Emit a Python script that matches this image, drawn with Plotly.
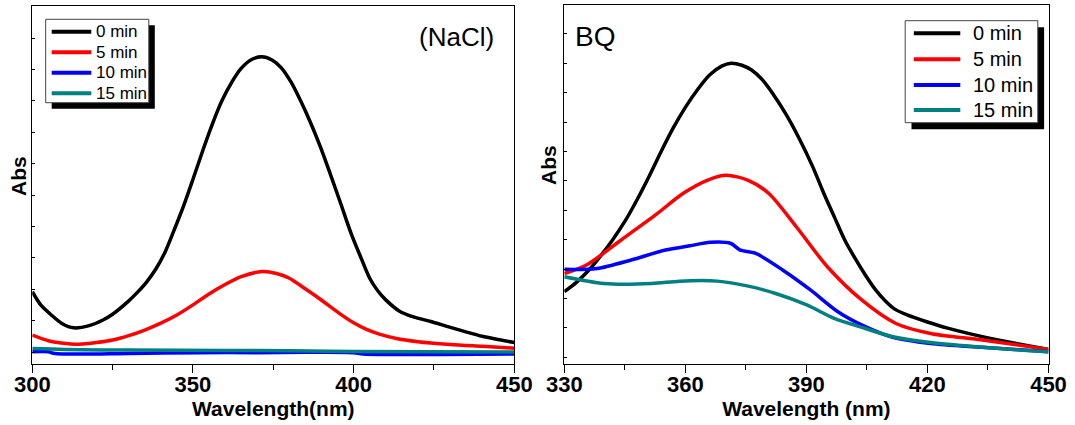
import plotly.graph_objects as go

W, H = 1075, 425

# ---------------- data: left panel (NaCl) ----------------
nacl_x_0 = [300, 302.7, 305.9, 309.2, 312.9, 317.7, 322, 325.2, 329.5, 332.7, 335.5, 338.5, 341.3, 344,
            347, 350, 353, 356, 359, 362, 365, 368, 371.4, 374.6, 377.5, 380.5, 383.5, 386.4, 389.6,
            392.8, 396, 399.2, 402.5, 405, 407.5, 410, 414.3, 418.6, 424, 429.3, 434.7, 440, 445.4, 450]
nacl_y_0 = [0.192, 0.149, 0.118, 0.091, 0.077, 0.084, 0.102, 0.122, 0.158, 0.190, 0.222, 0.265, 0.318, 0.385,
            0.463, 0.550, 0.640, 0.725, 0.800, 0.858, 0.903, 0.930, 0.940, 0.930, 0.905, 0.860, 0.800, 0.735, 0.655,
            0.565, 0.472, 0.378, 0.295, 0.235, 0.195, 0.166, 0.130, 0.112, 0.097, 0.081, 0.065, 0.050, 0.039, 0.030]

nacl_x_5 = [300, 305, 309, 314.5, 320, 325, 330, 335, 340, 345, 350, 355, 360, 365, 371.4, 376, 380,
            384, 388, 392, 396, 400, 404, 408, 413, 420, 430, 440, 450]
nacl_y_5 = [0.054, 0.036, 0.029, 0.025, 0.030, 0.038, 0.052, 0.070, 0.092, 0.118, 0.150, 0.185, 0.215,
            0.240, 0.256, 0.250, 0.235, 0.208, 0.180, 0.150, 0.120, 0.093, 0.072, 0.057, 0.044, 0.033,
            0.024, 0.018, 0.012]

nacl_x_10 = [300, 305, 307, 330, 352, 370, 385, 400, 403, 450]
nacl_y_10 = [0.001, 0.001, -0.005, -0.005, -0.002, -0.002, -0.001, -0.002, -0.006, -0.006]

nacl_x_15 = [300, 310, 330, 360, 380, 400, 450]
nacl_y_15 = [0.011, 0.008, 0.006, 0.005, 0.004, 0.002, 0.000]

# ---------------- data: right panel (BQ) ----------------
bq_x_0 = [330, 333, 336, 339, 342, 345, 348, 351, 354, 357, 360, 363, 366, 369, 371.3, 374, 376.4,
          379, 381.6, 385, 388.4, 391.5, 394.3, 397, 399.5, 402, 404.6, 407, 409.7, 412, 414.8, 420,
          425, 435.3, 450]
bq_y_0 = [0.223, 0.255, 0.295, 0.345, 0.400, 0.462, 0.535, 0.615, 0.700, 0.780, 0.850, 0.910, 0.960,
          0.990, 1.000, 0.993, 0.977, 0.945, 0.898, 0.825, 0.739, 0.650, 0.558, 0.475, 0.399, 0.338,
          0.280, 0.232, 0.190, 0.163, 0.145, 0.120, 0.099, 0.065, 0.027]

bq_x_5 = [330, 335.5, 344.1, 352.6, 359.4, 365.4, 370.1, 375.6, 380.7, 387.5, 395.2, 403.7, 412.2,
          420.8, 433.6, 450]
bq_y_5 = [0.285, 0.314, 0.399, 0.484, 0.557, 0.602, 0.619, 0.602, 0.557, 0.444, 0.308, 0.195, 0.115,
          0.081, 0.059, 0.027]

bq_x_10 = [330, 338.1, 346.6, 355.1, 361.1, 366.2, 371.3, 373.5, 377.3, 384.1, 391, 397.8, 404.6,
           411.4, 420.8, 433.6, 450]
bq_y_10 = [0.299, 0.302, 0.331, 0.365, 0.379, 0.391, 0.387, 0.365, 0.354, 0.297, 0.229, 0.155, 0.104,
           0.068, 0.047, 0.034, 0.019]

bq_x_15 = [330, 339.8, 351.7, 358.6, 367.9, 375.6, 382.4, 390.1, 396.9, 404.6, 411.4, 420.8, 433.6, 450]
bq_y_15 = [0.274, 0.251, 0.251, 0.259, 0.259, 0.242, 0.217, 0.178, 0.132, 0.098, 0.070, 0.050, 0.034, 0.019]

series_names = ["0 min", "5 min", "10 min", "15 min"]
series_colors = ["#000000", "#ff0000", "#0000ff", "#008080"]
panel_labels = ["(NaCl)", "BQ"]
x_titles = ["Wavelength(nm)", "Wavelength (nm)"]
y_title = "Abs"

left_x = [nacl_x_0, nacl_x_5, nacl_x_10, nacl_x_15]
left_y = [nacl_y_0, nacl_y_5, nacl_y_10, nacl_y_15]
right_x = [bq_x_0, bq_x_5, bq_x_10, bq_x_15]
right_y = [bq_y_0, bq_y_5, bq_y_10, bq_y_15]

FONT = "Arial, Liberation Sans, sans-serif"

fig = go.Figure()
for name, col, xs, ys in zip(series_names, series_colors, left_x, left_y):
    fig.add_trace(go.Scatter(x=xs, y=ys, mode="lines", name=name, showlegend=False,
                             line=dict(color=col, width=3.5, shape="spline", smoothing=0.8),
                             xaxis="x", yaxis="y"))
for name, col, xs, ys in zip(series_names, series_colors, right_x, right_y):
    fig.add_trace(go.Scatter(x=xs, y=ys, mode="lines", name=name, showlegend=False,
                             line=dict(color=col, width=3.5, shape="spline", smoothing=0.8),
                             xaxis="x2", yaxis="y2"))


def px(v):
    return v / W


def py(v):
    return 1 - v / H


xcommon = dict(showgrid=False, zeroline=False, showline=True, linecolor="black", linewidth=1.3,
               mirror=True, ticks="outside", ticklen=8, tickwidth=1.3, tickcolor="black",
               automargin=False, ticklabelstandoff=-8,
               tickfont=dict(family=FONT, size=22, color="black", weight="bold"),
               title_font=dict(family=FONT, size=21, color="black", weight="bold"))
ycommon = dict(showgrid=False, zeroline=False, showline=True, linecolor="black", linewidth=1.3,
               mirror=True, ticks="inside", ticklen=3, tickwidth=1, tickcolor="black",
               automargin=False, showticklabels=False, dtick=0.1, tick0=0)

shapes = []
annotations = []

# custom legends (box with drop shadow, line samples, labels)
legend_specs = [
    dict(box=(45.7, 19.3, 148.8, 102.7), sh=(6, 6), lx=(51.7, 91.3), tx=94.0,
         rows=[31.7, 52.3, 72.7, 93.3], fs=17),
    dict(box=(905.2, 20.7, 1037.8, 122.7), sh=(6.3, 6.6), lx=(913.8, 960.3), tx=970.5,
         rows=[33.3, 59.3, 85.0, 110.0], fs=20),
]
for spec in legend_specs:
    bx0, by0, bx1, by1 = spec["box"]
    dx, dy = spec["sh"]
    shapes.append(dict(type="rect", xref="paper", yref="paper",
                       x0=px(bx0 + dx), x1=px(bx1 + dx), y0=py(by1 + dy), y1=py(by0 + dy),
                       fillcolor="black", line=dict(width=0), layer="above"))
    shapes.append(dict(type="rect", xref="paper", yref="paper",
                       x0=px(bx0), x1=px(bx1), y0=py(by1), y1=py(by0),
                       fillcolor="white", line=dict(width=1, color="#444444"), layer="above"))
    for name, col, ry in zip(series_names, series_colors, spec["rows"]):
        shapes.append(dict(type="line", xref="paper", yref="paper",
                           x0=px(spec["lx"][0]), x1=px(spec["lx"][1]), y0=py(ry), y1=py(ry),
                           line=dict(color=col, width=4), layer="above"))
        annotations.append(dict(text=name, xref="paper", yref="paper", x=px(spec["tx"]), y=py(ry),
                                xanchor="left", yanchor="middle", showarrow=False,
                                font=dict(family=FONT, size=spec["fs"], color="black")))

annotations += [
    dict(text=panel_labels[0], xref="paper", yref="paper", x=px(456), y=py(37), xanchor="center",
         yanchor="middle", showarrow=False, font=dict(family=FONT, size=26, color="black")),
    dict(text=panel_labels[1], xref="paper", yref="paper", x=px(573), y=py(37), xanchor="left",
         yanchor="middle", showarrow=False, font=dict(family=FONT, size=28, color="black")),
    dict(text=y_title, xref="paper", yref="paper", x=px(19), y=py(176), xanchor="center",
         yanchor="middle", textangle=-90, showarrow=False,
         font=dict(family=FONT, size=21, color="black", weight="bold")),
    dict(text=y_title, xref="paper", yref="paper", x=px(549), y=py(165), xanchor="center",
         yanchor="middle", textangle=-90, showarrow=False,
         font=dict(family=FONT, size=21, color="black", weight="bold")),
]

fig.update_layout(
    width=W, height=H, margin=dict(l=0, r=0, t=0, b=0, autoexpand=False),
    plot_bgcolor="white", paper_bgcolor="white",
    xaxis=dict(domain=[px(32.3), px(514.3)], range=[300, 450], dtick=50, anchor="y",
               minor=dict(ticks="outside", ticklen=5, dtick=25, tickcolor="black", tickwidth=1.3),
               title=dict(text=x_titles[0], standoff=4), **xcommon),
    yaxis=dict(domain=[py(364), py(6)], range=[-0.0382, 1.1019], anchor="x", **ycommon),
    xaxis2=dict(domain=[px(564.3), px(1048.5)], range=[330, 450], dtick=30, anchor="y2",
                minor=dict(ticks="outside", ticklen=5, dtick=15, tickcolor="black", tickwidth=1.3),
                title=dict(text=x_titles[1], standoff=4), **xcommon),
    yaxis2=dict(domain=[py(364), py(5)], range=[-0.0228, 1.198], anchor="x2", **ycommon),
    shapes=shapes,
    annotations=annotations,
    showlegend=False,
)

fig.write_html("out.html")
